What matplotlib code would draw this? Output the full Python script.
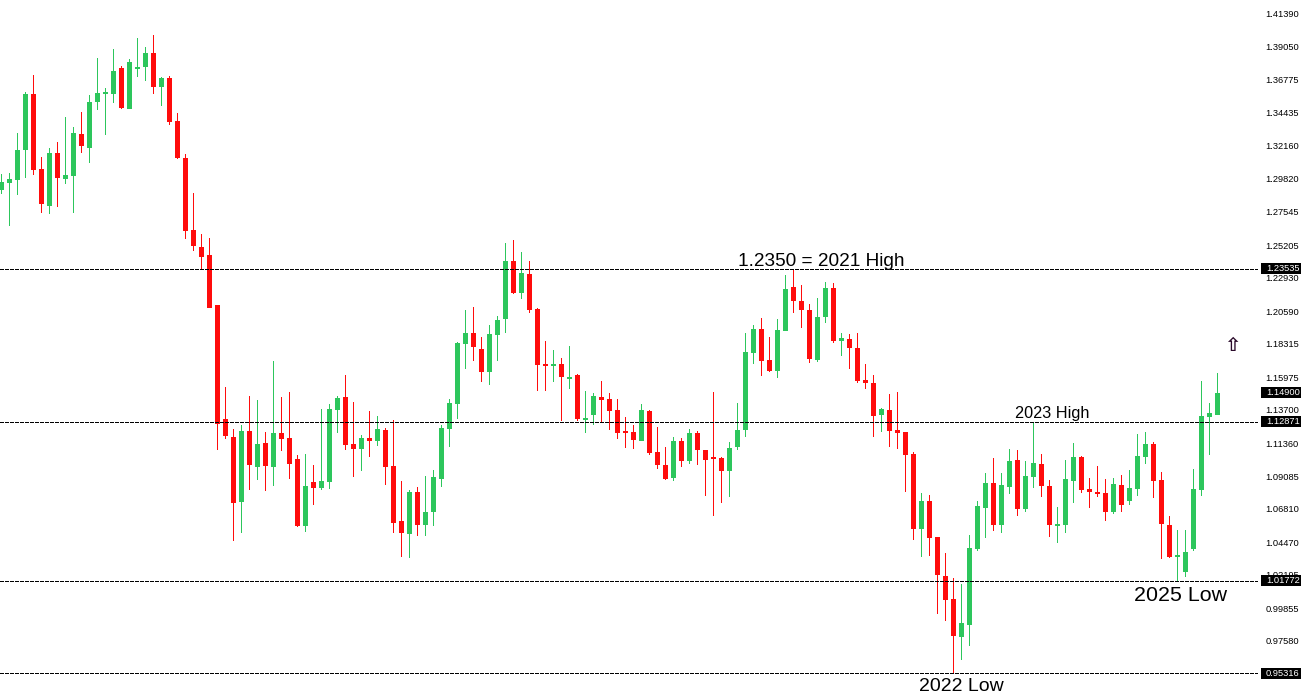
import matplotlib
matplotlib.use("Agg")
import matplotlib.pyplot as plt
from matplotlib.patches import Rectangle

# weekly candles
opens = [
    1.2905, 1.2954, 1.2975, 1.3184, 1.3575, 1.3051, 1.2793, 1.3163, 1.2982, 1.3003,
    1.3296, 1.3198, 1.3519, 1.3575, 1.3575, 1.3756, 1.3470, 1.3749, 1.3763, 1.3861,
    1.3624, 1.3687, 1.3386, 1.3128, 1.2626, 1.2507, 1.2451, 1.2102, 1.1306, 1.1181,
    1.0727, 1.1223, 1.0971, 1.1139, 1.0971, 1.1209, 1.1174, 1.1027, 1.0560, 1.0867,
    1.0825, 1.0867, 1.1369, 1.1460, 1.1132, 1.1097, 1.1174, 1.1153, 1.1230, 1.0978,
    1.0594, 1.0504, 1.0797, 1.0567, 1.0657, 1.0888, 1.1237, 1.1411, 1.1830, 1.1907,
    1.1795, 1.1634, 1.1893, 1.2004, 1.2409, 1.2186, 1.2318, 1.2074, 1.1690, 1.1676,
    1.1690, 1.1586, 1.1613, 1.1299, 1.1334, 1.1460, 1.1446, 1.1369, 1.1223, 1.1216,
    1.1153, 1.1362, 1.1076, 1.0985, 1.0895, 1.1153, 1.1013, 1.1209, 1.1090, 1.1041,
    1.1034, 1.0943, 1.1111, 1.1230, 1.1767, 1.1935, 1.1718, 1.1641, 1.1921, 1.2228,
    1.2130, 1.2067, 1.1718, 1.2018, 1.2221, 1.1851, 1.1865, 1.1802, 1.1579, 1.1558,
    1.1334, 1.1369, 1.1230, 1.1216, 1.1062, 1.0539, 1.0734, 1.0483, 1.0210, 1.0050,
    0.9785, 0.9868, 1.0399, 1.0685, 1.0860, 1.0567, 1.0832, 1.1020, 1.0678, 1.0902,
    1.0992, 1.0839, 1.0560, 1.0567, 1.0874, 1.1041, 1.0818, 1.0797, 1.0790, 1.0657,
    1.0846, 1.0734, 1.0818, 1.1041, 1.1132, 1.0881, 1.0567, 1.0343, 1.0238, 1.0399,
    1.0811, 1.1320, 1.1334,
]
highs = [
    1.3016, 1.3023, 1.3303, 1.3589, 1.3707, 1.3135, 1.3198, 1.3240, 1.3414, 1.3345,
    1.3449, 1.3568, 1.3826, 1.3617, 1.3889, 1.3770, 1.3819, 1.3966, 1.3903, 1.3987,
    1.3694, 1.3701, 1.3442, 1.3156, 1.2884, 1.2598, 1.2570, 1.2102, 1.1530, 1.1237,
    1.1264, 1.1467, 1.1439, 1.1216, 1.1711, 1.1460, 1.1495, 1.1055, 1.1062, 1.0985,
    1.1376, 1.1411, 1.1467, 1.1613, 1.1425, 1.1195, 1.1362, 1.1327, 1.1244, 1.1299,
    1.0874, 1.0811, 1.0832, 1.0909, 1.0950, 1.1264, 1.1446, 1.1844, 1.2067, 1.2088,
    1.1879, 1.1963, 1.2025, 1.2535, 1.2556, 1.2472, 1.2409, 1.2081, 1.1851, 1.1788,
    1.1732, 1.1816, 1.1620, 1.1502, 1.1488, 1.1572, 1.1488, 1.1446, 1.1320, 1.1264,
    1.1411, 1.1369, 1.1251, 1.1111, 1.1181, 1.1174, 1.1237, 1.1223, 1.1090, 1.1495,
    1.1041, 1.1146, 1.1418, 1.1907, 1.1963, 1.2011, 1.1879, 1.2004, 1.2311, 1.2346,
    1.2242, 1.2109, 1.2151, 1.2263, 1.2256, 1.1907, 1.1900, 1.1907, 1.1690, 1.1613,
    1.1383, 1.1481, 1.1495, 1.1216, 1.1076, 1.0790, 1.0776, 1.0483, 1.0371, 1.0197,
    1.0155, 1.0497, 1.0734, 1.0929, 1.1034, 1.0929, 1.1097, 1.1090, 1.1013, 1.1285,
    1.1062, 1.0881, 1.0692, 1.1020, 1.1139, 1.1048, 1.0895, 1.0978, 1.0888, 1.0895,
    1.0916, 1.0950, 1.1202, 1.1216, 1.1146, 1.0936, 1.0629, 1.0532, 1.0532, 1.0957,
    1.1572, 1.1418, 1.1627,
]
lows = [
    1.2877, 1.2654, 1.2870, 1.2989, 1.3010, 1.2744, 1.2737, 1.2786, 1.2947, 1.2744,
    1.3163, 1.3093, 1.3463, 1.3289, 1.3512, 1.3470, 1.3470, 1.3694, 1.3666, 1.3575,
    1.3491, 1.3358, 1.3121, 1.2563, 1.2479, 1.2353, 1.2081, 1.1090, 1.1167, 1.0455,
    1.0511, 1.0811, 1.0881, 1.0804, 1.0839, 1.1083, 1.0888, 1.0553, 1.0518, 1.0706,
    1.0811, 1.0818, 1.1209, 1.1090, 1.0902, 1.0943, 1.1041, 1.1118, 1.0846, 1.0511,
    1.0343, 1.0336, 1.0490, 1.0490, 1.0560, 1.0832, 1.1111, 1.1306, 1.1655, 1.1711,
    1.1565, 1.1544, 1.1711, 1.1907, 1.2179, 1.2144, 1.2046, 1.1502, 1.1502, 1.1565,
    1.1292, 1.1516, 1.1292, 1.1209, 1.1264, 1.1285, 1.1230, 1.1167, 1.1104, 1.1097,
    1.1153, 1.1055, 1.0957, 1.0881, 1.0874, 1.0971, 1.0992, 1.0985, 1.0769, 1.0629,
    1.0720, 1.0762, 1.1090, 1.1181, 1.1690, 1.1606, 1.1634, 1.1593, 1.1921, 1.2046,
    1.1942, 1.1697, 1.1704, 1.1976, 1.1837, 1.1746, 1.1655, 1.1558, 1.1516, 1.1181,
    1.1216, 1.1111, 1.1097, 1.0797, 1.0462, 1.0343, 1.0350, 0.9945, 0.9896, 0.9533,
    0.9624, 0.9722, 1.0385, 1.0476, 1.0525, 1.0511, 1.0783, 1.0629, 1.0657, 1.0825,
    1.0762, 1.0483, 1.0441, 1.0511, 1.0720, 1.0790, 1.0685, 1.0762, 1.0594, 1.0643,
    1.0657, 1.0706, 1.0769, 1.0992, 1.0755, 1.0329, 1.0336, 1.0176, 1.0204, 1.0385,
    1.0769, 1.1055, 1.1334,
]
closes = [
    1.2961, 1.2982, 1.3184, 1.3575, 1.3044, 1.2807, 1.3163, 1.2989, 1.3010, 1.3303,
    1.3212, 1.3519, 1.3582, 1.3589, 1.3735, 1.3477, 1.3798, 1.3763, 1.3861, 1.3624,
    1.3687, 1.3379, 1.3128, 1.2619, 1.2514, 1.2437, 1.2081, 1.1271, 1.1188, 1.0720,
    1.1223, 1.0985, 1.1132, 1.0978, 1.1209, 1.1167, 1.0992, 1.0560, 1.0839, 1.0825,
    1.0874, 1.1376, 1.1453, 1.1125, 1.1097, 1.1174, 1.1153, 1.1237, 1.0971, 1.0581,
    1.0511, 1.0797, 1.0567, 1.0657, 1.0902, 1.1244, 1.1418, 1.1837, 1.1907, 1.1809,
    1.1634, 1.1900, 1.1997, 1.2409, 1.2186, 1.2325, 1.2067, 1.1683, 1.1676, 1.1690,
    1.1599, 1.1599, 1.1306, 1.1313, 1.1467, 1.1439, 1.1362, 1.1209, 1.1209, 1.1160,
    1.1369, 1.1069, 1.0985, 1.0888, 1.1153, 1.1013, 1.1209, 1.1090, 1.1020, 1.1027,
    1.0943, 1.1104, 1.1230, 1.1774, 1.1935, 1.1711, 1.1641, 1.1928, 1.2214, 1.2130,
    1.2067, 1.1725, 1.2018, 1.2221, 1.1851, 1.1872, 1.1802, 1.1572, 1.1558, 1.1327,
    1.1376, 1.1223, 1.1209, 1.1055, 1.0539, 1.0734, 1.0476, 1.0217, 1.0043, 0.9792,
    0.9882, 1.0406, 1.0699, 1.0860, 1.0567, 1.0846, 1.1013, 1.0678, 1.0909, 1.0999,
    1.0839, 1.0567, 1.0574, 1.0888, 1.1041, 1.0811, 1.0797, 1.0783, 1.0657, 1.0853,
    1.0706, 1.0825, 1.1048, 1.1132, 1.0874, 1.0574, 1.0343, 1.0357, 1.0378, 1.0818,
    1.1327, 1.1348, 1.1488,
]

tick_values = [1.41390, 1.39050, 1.36775, 1.34435, 1.32160, 1.29820, 1.27545, 1.25205,
               1.22930, 1.20590, 1.18315, 1.15975, 1.13700, 1.11360, 1.09085, 1.06810,
               1.04470, 1.02195, 0.99855, 0.97580]
tick_labels = ["%.5f" % v for v in tick_values]

level_values = [1.23535, 1.12871, 1.01772, 0.95316]
last_price = 1.14900

GREEN = "#2dc65c"
RED = "#ff0c0c"
FONT = "Liberation Sans"

fig = plt.figure(figsize=(13.04, 7.0), dpi=100)
ax = fig.add_axes([0, 0, 1258 / 1304, 1])

x = range(len(opens))
colors = [GREEN if c > o else RED for o, c in zip(opens, closes)]
bottoms = [min(o, c) for o, c in zip(opens, closes)]
heights = [abs(c - o) for o, c in zip(opens, closes)]
wick_heights = [h - l for h, l in zip(highs, lows)]

# wicks are 1px bars so they stay centred on the bodies
ax.bar(x, wick_heights, bottom=lows, width=0.125, color=colors, antialiased=False, zorder=2)
ax.bar(x, heights, bottom=bottoms, width=0.625, color=colors, antialiased=False, zorder=3)

for level in level_values:
    ax.axhline(level, color="black", linewidth=0.72, linestyle=(0, (3, 2)), antialiased=False, zorder=4)

ax.set_xlim(-0.1875, 157.0625)
ax.set_ylim(0.9345, 1.4231)
ax.set_xticks([])
ax.yaxis.tick_right()
ax.set_yticks(tick_values, labels=tick_labels)
ax.tick_params(axis="y", length=0, pad=5.3, labelsize=6.7, labelcolor="black")
for label in ax.get_yticklabels():
    label.set_family(FONT)
for side in ax.spines:
    ax.spines[side].set_visible(False)

# black price tags on the right
trans = ax.get_yaxis_transform()
for price in level_values + [last_price]:
    ax.add_patch(Rectangle((1.0024, price - 0.0038), 0.0318, 0.0077, transform=trans,
                           facecolor="black", edgecolor="none", clip_on=False, zorder=5))
    ax.text(1.0064, price, "%.5f" % price, transform=trans, family=FONT, fontsize=6.7,
            color="white", va="center", ha="left", zorder=6)

ax.text(102.5, 1.2405, "1.2350 = 2021 High", family=FONT, fontsize=13.7, ha="center", va="center")
ax.text(131.3, 1.1348, "2023 High", family=FONT, fontsize=11.7, ha="center", va="center")
ax.text(147.4, 1.0071, "2025 Low", family=FONT, fontsize=15.4, ha="center", va="center")
ax.text(120, 0.9436, "2022 Low", family=FONT, fontsize=14, ha="center", va="center")
ax.text(153.9, 1.1816, "\u21e7", family="DejaVu Sans", fontweight="bold", fontsize=14, color="#2a0a2a", ha="center", va="center")

fig.savefig("out.png", dpi=100)
